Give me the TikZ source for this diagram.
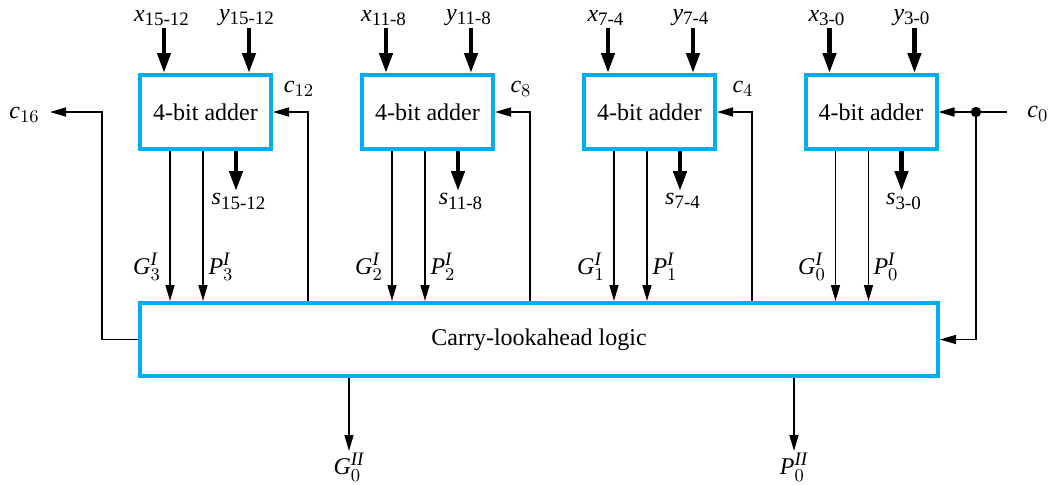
\documentclass[tikz,border=0pt]{standalone}
\usepackage{amsmath}
\usepackage{fontspec}
\setmainfont{Liberation Serif}
\usetikzlibrary{arrows.meta,positioning,calc}
\definecolor{adderblue}{RGB}{0,174,239}
\DeclareMathSizes{12}{12}{9.5}{7.5}

\begin{document}
\begin{tikzpicture}[x=0.5pt, y=-0.5pt,
    font=\fontsize{12}{14}\selectfont,
    adder/.style={draw=adderblue, line width=2pt, minimum width=65.5pt, minimum height=37pt, inner sep=0pt, align=center},
    cla/.style={adder, minimum width=399pt, minimum height=36.5pt},
    sig/.style={-{Triangle[length=8pt, width=4.5pt]}, line width=0.8pt},
    bus/.style={-{Triangle[length=10pt, width=6.5pt]}, line width=2.2pt},
    lbl/.style={inner sep=1pt}
]
\useasboundingbox (0,0) rectangle (1051,484);

% adders and lookahead block
\node[adder] (a3) at (205.5,112) {4-bit adder};
\node[adder] (a2) at (427.5,112) {4-bit adder};
\node[adder] (a1) at (649.5,112) {4-bit adder};
\node[adder] (a0) at (871,112) {4-bit adder};
\node[cla] (cla) at (539,339.5) {Carry-lookahead logic};

% tap points on the adders
\path (a3.north west) ++(26,0) coordinate (x3i) ++(85,0) coordinate (y3i);
\path (a2.north west) ++(26,0) coordinate (x2i) ++(85,0) coordinate (y2i);
\path (a1.north west) ++(26,0) coordinate (x1i) ++(85,0) coordinate (y1i);
\path (a0.north west) ++(26,0) coordinate (x0i) ++(85,0) coordinate (y0i);
\path (a3.south west) ++(32,0) coordinate (g3) ++(33,0) coordinate (p3) ++(33,0) coordinate (s3i);
\path (a2.south west) ++(32,0) coordinate (g2) ++(33,0) coordinate (p2) ++(33,0) coordinate (s2i);
\path (a1.south west) ++(32,0) coordinate (g1) ++(33,0) coordinate (p1) ++(33,0) coordinate (s1i);
\path (a0.south west) ++(32,0) coordinate (g0) ++(33,0) coordinate (p0) ++(33,0) coordinate (s0i);

% operand inputs
\node[lbl, anchor=south] (x3) at (162,28) {$\mathit{x}_{\text{15-12}}$};
\node[lbl, anchor=south] (y3) at (247,28) {$\mathit{y}_{\text{15-12}}$};
\node[lbl, anchor=south] (x2) at (384,28) {$\mathit{x}_{\text{11-8}}$};
\node[lbl, anchor=south] (y2) at (469,28) {$\mathit{y}_{\text{11-8}}$};
\node[lbl, anchor=south] (x1) at (606,28) {$\mathit{x}_{\text{7-4}}$};
\node[lbl, anchor=south] (y1) at (691,28) {$\mathit{y}_{\text{7-4}}$};
\node[lbl, anchor=south] (x0) at (827,28) {$\mathit{x}_{\text{3-0}}$};
\node[lbl, anchor=south] (y0) at (912,28) {$\mathit{y}_{\text{3-0}}$};
\draw[bus] (x3i |- x3.south) -- (x3i);
\draw[bus] (y3i |- y3.south) -- (y3i);
\draw[bus] (x2i |- x2.south) -- (x2i);
\draw[bus] (y2i |- y2.south) -- (y2i);
\draw[bus] (x1i |- x1.south) -- (x1i);
\draw[bus] (y1i |- y1.south) -- (y1i);
\draw[bus] (x0i |- x0.south) -- (x0i);
\draw[bus] (y0i |- y0.south) -- (y0i);

% sum outputs
\node[lbl, anchor=north] (s3) at (239,191) {$\mathit{s}_{\text{15-12}}$};
\node[lbl, anchor=north] (s2) at (461,191) {$\mathit{s}_{\text{11-8}}$};
\node[lbl, anchor=north] (s1) at (683,191) {$\mathit{s}_{\text{7-4}}$};
\node[lbl, anchor=north] (s0) at (904,191) {$\mathit{s}_{\text{3-0}}$};
\draw[bus] (s3i) -- (s3i |- s3.north);
\draw[bus] (s2i) -- (s2i |- s2.north);
\draw[bus] (s1i) -- (s1i |- s1.north);
\draw[bus] (s0i) -- (s0i |- s0.north);

% generate and propagate
\node[lbl] (G3) at (147,267) {$\mathit{G}^{\mathit{I}}_{3}$};
\node[lbl] (P3) at (221,267) {$\mathit{P}^{\mathit{I}}_{3}$};
\node[lbl] (G2) at (369,267) {$\mathit{G}^{\mathit{I}}_{2}$};
\node[lbl] (P2) at (443,267) {$\mathit{P}^{\mathit{I}}_{2}$};
\node[lbl] (G1) at (591,267) {$\mathit{G}^{\mathit{I}}_{1}$};
\node[lbl] (P1) at (665,267) {$\mathit{P}^{\mathit{I}}_{1}$};
\node[lbl] (G0i) at (812,267) {$\mathit{G}^{\mathit{I}}_{0}$};
\node[lbl] (P0i) at (886,267) {$\mathit{P}^{\mathit{I}}_{0}$};
\draw[sig] (g3) -- (g3 |- cla.north);
\draw[sig] (p3) -- (p3 |- cla.north);
\draw[sig] (g2) -- (g2 |- cla.north);
\draw[sig] (p2) -- (p2 |- cla.north);
\draw[sig] (g1) -- (g1 |- cla.north);
\draw[sig] (p1) -- (p1 |- cla.north);
\draw[sig] (g0) -- (g0 |- cla.north);
\draw[sig] (p0) -- (p0 |- cla.north);

% carries
\coordinate (k12) at (308,112);
\coordinate (k8) at (530,112);
\coordinate (k4) at (752,112);
\node[lbl] (c12) at (299,89) {$\mathit{c}_{12}$};
\node[lbl] (c8) at (521,89) {$\mathit{c}_{8}$};
\node[lbl] (c4) at (743,89) {$\mathit{c}_{4}$};
\draw[sig] (cla.north -| k12) -- (k12) -- (a3.east);
\draw[sig] (cla.north -| k8) -- (k8) -- (a2.east);
\draw[sig] (cla.north -| k4) -- (k4) -- (a1.east);

\coordinate (k16) at (102,112);
\coordinate (c16out) at (50,112);
\node[lbl, left=4pt of c16out, yshift=-1.5pt] (c16) {$\mathit{c}_{16}$};
\draw[sig] (cla.west) -| (k16) -- (c16out);

\coordinate (c0in) at (1007,112);
\coordinate (tap) at (976,112);
\node[lbl, right=9pt of c0in, yshift=-1pt] (c0) {$\mathit{c}_{0}$};
\draw[sig] (c0in) -- (a0.east);
\fill (tap) circle (2.6pt);
\draw[sig] (tap) |- (cla.east);

% group outputs
\node[lbl, anchor=north] (G0) at (349,451) {$\mathit{G}^{\mathit{II}}_{0}$};
\node[lbl, anchor=north] (P0) at (794,451) {$\mathit{P}^{\mathit{II}}_{0}$};
\draw[sig] (cla.south -| G0.north) -- (G0.north);
\draw[sig] (cla.south -| P0.north) -- (P0.north);
\end{tikzpicture}
\end{document}
